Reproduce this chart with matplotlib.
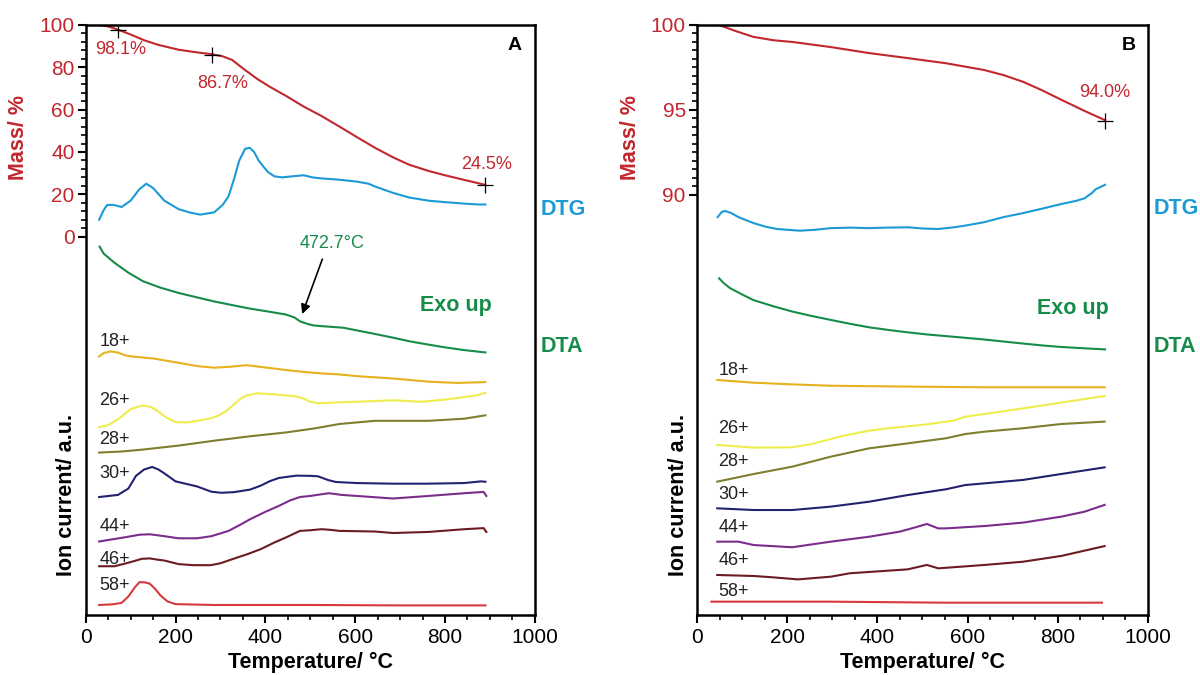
import numpy as np
import matplotlib
matplotlib.use("Agg")
import matplotlib.pyplot as plt
from matplotlib.ticker import FixedLocator

plt.rcParams['font.family'] = ['Liberation Sans', 'DejaVu Sans']

RED = "#C1272D"
BLUE = "#1B9AD6"
GREEN = "#178C4A"
MS_COLORS = {"18+": "#E6B21E", "26+": "#EDED4C", "28+": "#7F7F30",
             "30+": "#22226E", "44+": "#7B2D8B", "46+": "#6A1C20", "58+": "#D6393B"}

# ---------------- panel A data (temperature in C, value in axis units) ----------------
a_mass_t = [30, 50, 72, 100, 130, 160, 207, 250, 281, 305, 326, 350, 382, 410, 446, 485, 525,
            565, 604, 644, 684, 720, 764, 800, 843, 889]
a_mass = [100, 99.3, 97.8, 95.5, 92.8, 90.7, 88.3, 87, 86.2, 85.2, 83.5, 79.5, 74.5, 70.8, 66.5,
          61.5, 57, 52, 47, 42, 37.5, 34, 31, 29, 26.8, 24.5]

a_dtg_t = [30, 40, 48, 62, 80, 100, 120, 135, 150, 175, 207, 230, 255, 286, 305, 318, 330, 342,
           355, 365, 375, 385, 396, 406, 420, 437, 460, 485, 505, 525, 560, 604, 630, 644, 684,
           720, 763, 800, 843, 875, 890]
a_dtg = [8, 12.5, 15, 15, 14, 17, 22.5, 25, 23, 17, 13, 11.5, 10.4, 11.5, 15, 19, 27, 36, 41.5,
         42, 40, 36, 33, 30.5, 28.5, 28, 28.5, 29, 28, 27.5, 27, 26, 25, 23.7, 20.7, 18.5, 17,
         16.3, 15.6, 15.2, 15.2]

a_dta_t = [31, 40, 64, 95, 127, 165, 207, 250, 286, 330, 366, 410, 446, 465, 477, 495, 509, 540,
           573, 604, 640, 684, 720, 763, 800, 843, 890]
a_dta = [-4.7, -8, -12.3, -17, -21, -24, -26.6, -28.8, -30.6, -32.5, -34, -35.5, -36.8, -38.2,
         -40, -41.3, -42, -42.5, -43, -44.3, -45.8, -47.7, -49.4, -51, -52.3, -53.6, -54.7]

a_ms = {
    "18+": ([30, 40, 56, 72, 90, 104, 152, 207, 250, 286, 320, 358, 400, 446, 490, 525, 560, 604,
             684, 763, 827, 890],
            [-56.6, -55.0, -54.2, -54.8, -56.2, -56.6, -57.6, -59.6, -61.2, -61.9, -61.5, -60.7,
             -61.8, -63, -64, -64.6, -65.0, -65.9, -67, -68.5, -69.1, -68.7]),
    "26+": ([30, 50, 72, 100, 127, 145, 160, 180, 200, 225, 248, 275, 294, 312, 326, 345, 358, 382,
             420, 446, 470, 485, 500, 517, 560, 604, 684, 747, 800, 843, 870, 890],
            [-90, -89, -86.3, -81.5, -79.7, -80.5, -82.4, -85.5, -87.6, -87.8, -87, -86, -84.7,
             -82.5, -80, -76.5, -75, -74, -74.5, -75, -75.5, -76.5, -78, -78.7, -78.3, -78, -77.3,
             -78, -77, -75.8, -75, -73.8]),
    "28+": ([30, 80, 127, 207, 286, 366, 446, 509, 565, 644, 763, 843, 890],
            [-102, -101.5, -100.6, -98.7, -96.4, -94.3, -92.5, -90.6, -88.5, -87, -87, -86, -84.4]),
    "30+": ([30, 72, 95, 112, 130, 148, 162, 175, 200, 248, 280, 302, 330, 366, 390, 410, 430, 469,
             500, 517, 540, 557, 604, 684, 760, 843, 880, 890],
            [-123, -122, -119, -113, -110, -108.8, -110, -111.8, -115.6, -118, -120.5, -121, -120.7,
             -119.5, -117.6, -115.5, -114, -112.9, -113, -113.2, -115, -115.9, -116.4, -116.7,
             -116.7, -116.4, -115.6, -115.8]),
    "44+": ([30, 88, 120, 143, 175, 207, 248, 280, 318, 345, 366, 400, 430, 455, 477, 500, 525, 541,
             570, 604, 684, 763, 843, 886, 892],
            [-144, -142, -140.8, -140.6, -141.5, -142.5, -142.5, -141.5, -139, -136, -133.5, -130,
             -127.2, -124.6, -123, -122.5, -121.7, -121.2, -122, -122.5, -123.7, -122.5, -121.2,
             -120.6, -122.5]),
    "46+": ([30, 64, 85, 104, 125, 143, 160, 175, 207, 240, 278, 300, 326, 360, 390, 420, 446, 477,
             500, 525, 545, 565, 644, 684, 763, 843, 886, 892],
            [-155.7, -155.7, -154.6, -153.5, -152.2, -152, -152.6, -153, -154.7, -155.2, -155.2,
             -154.3, -152.4, -150, -147.6, -144.5, -142.1, -139, -138.7, -138.2, -138.5, -139,
             -139.3, -140, -139.5, -138.2, -137.7, -139.5]),
    "58+": ([30, 60, 80, 95, 110, 120, 132, 143, 155, 167, 182, 200, 286, 500, 700, 890],
            [-174, -173.7, -173, -170, -165.5, -163.2, -163.3, -164, -166.5, -169.6, -172.3,
             -173.6, -174, -174, -174.2, -174.2]),
}
a_ms_label_y = {"18+": -49.6, "26+": -77.6, "28+": -96.0, "30+": -111.8,
                "44+": -136.7, "46+": -152.3, "58+": -164.9}

# ---------------- panel B data ----------------
b_mass_t = [49, 85, 125, 170, 212, 297, 381, 468, 552, 637, 680, 724, 766, 808, 859, 905]
b_mass = [100, 99.65, 99.3, 99.1, 99.0, 98.7, 98.35, 98.05, 97.75, 97.35, 97.05, 96.65, 96.15,
          95.6, 94.95, 94.4]

b_dtg_t = [46, 55, 62, 75, 92, 125, 150, 177, 228, 260, 297, 340, 381, 420, 468, 500, 535, 570,
           595, 637, 680, 724, 766, 808, 840, 859, 875, 885, 905]
b_dtg = [88.7, 89.0, 89.06, 88.95, 88.7, 88.35, 88.15, 88.0, 87.9, 87.95, 88.05, 88.08, 88.05,
         88.08, 88.1, 88.03, 88.0, 88.1, 88.2, 88.4, 88.7, 88.94, 89.2, 89.47, 89.65, 89.8, 90.1,
         90.35, 90.6]

b_dta_t = [49, 60, 74, 100, 125, 170, 212, 255, 297, 340, 381, 425, 468, 509, 552, 595, 637, 680,
           724, 766, 808, 860, 905]
b_dta = [85.1, 84.8, 84.51, 84.15, 83.82, 83.45, 83.14, 82.88, 82.65, 82.42, 82.22, 82.06, 81.92,
         81.8, 81.7, 81.6, 81.5, 81.38, 81.26, 81.15, 81.06, 80.98, 80.92]

b_ms = {
    "18+": ([45, 126, 211, 297, 467, 638, 904],
            [79.12, 78.96, 78.86, 78.78, 78.73, 78.69, 78.69]),
    "26+": ([45, 126, 211, 254, 322, 382, 425, 510, 569, 595, 638, 723, 808, 904],
            [75.30, 75.14, 75.16, 75.35, 75.82, 76.14, 76.28, 76.51, 76.73, 76.96, 77.12, 77.45,
             77.79, 78.18]),
    "28+": ([45, 126, 211, 297, 382, 467, 552, 595, 638, 723, 808, 904],
            [73.14, 73.59, 74.02, 74.61, 75.10, 75.39, 75.69, 75.94, 76.08, 76.28, 76.53, 76.67]),
    "30+": ([45, 126, 211, 297, 382, 467, 552, 595, 638, 723, 808, 904],
            [71.57, 71.47, 71.47, 71.67, 71.96, 72.35, 72.69, 72.94, 73.04, 73.24, 73.59, 73.98]),
    "44+": ([45, 92, 126, 211, 297, 382, 450, 484, 510, 535, 552, 638, 723, 808, 859, 904],
            [69.61, 69.61, 69.41, 69.28, 69.61, 69.90, 70.20, 70.45, 70.65, 70.39, 70.39, 70.53,
             70.73, 71.08, 71.37, 71.77]),
    "46+": ([45, 126, 169, 224, 297, 339, 467, 510, 535, 638, 723, 808, 904],
            [67.65, 67.59, 67.51, 67.39, 67.55, 67.75, 67.98, 68.24, 68.04, 68.24, 68.43, 68.77,
             69.35]),
    "58+": ([32, 297, 552, 898],
            [66.08, 66.08, 66.02, 66.02]),
}
b_ms_label_y = {"18+": 79.7, "26+": 76.24, "28+": 74.3, "30+": 72.4,
                "44+": 70.45, "46+": 68.5, "58+": 66.7}

fig = plt.figure(figsize=(12, 6.75), dpi=100)


def setup_axis(ax, ylim, yticks, yminor):
    ax.set_xlim(0, 1000)
    ax.set_ylim(*ylim)
    ax.set_xticks([0, 200, 400, 600, 800, 1000])
    ax.xaxis.set_minor_locator(FixedLocator(np.arange(0, 1001, 50)))
    ax.set_yticks(yticks)
    ax.yaxis.set_minor_locator(FixedLocator(yminor))
    ax.tick_params(axis="both", which="major", direction="out", length=6, width=1.5,
                   labelsize=15, top=False, right=False)
    ax.tick_params(axis="both", which="minor", direction="out", length=3.5, width=1.2,
                   top=False, right=False)
    ax.tick_params(axis="y", labelcolor=RED, pad=2)
    for s in ax.spines.values():
        s.set_linewidth(1.8)


def draw_panel(ax, mass_t, mass, dtg_t, dtg, dta_t, dta, ms, label_y, label_x):
    lw = 1.5
    ax.plot(mass_t, mass, color=RED, lw=lw)
    ax.plot(dtg_t, dtg, color=BLUE, lw=lw)
    ax.plot(dta_t, dta, color=GREEN, lw=lw)
    for name, (t, v) in ms.items():
        ax.plot(t, v, color=MS_COLORS[name], lw=lw)
        ax.text(label_x, label_y[name], name, fontsize=13, color="#222222",
                ha="left", va="center")


# ---------------- panel A ----------------
axA = fig.add_axes([0.0714, 0.089, 0.3743, 0.874])
setup_axis(axA, (-178.7, 100), [0, 20, 40, 60, 80, 100], np.arange(0, 101, 4))
draw_panel(axA, a_mass_t, a_mass, a_dtg_t, a_dtg, a_dta_t, a_dta, a_ms, a_ms_label_y, 30)

axA.plot([72, 281, 889], [97.6, 86.0, 24.3], "+", color="black", ms=11, mew=0.9)
axA.text(77, 88.2, "98.1%", color=RED, fontsize=13, ha="center", va="center")
axA.text(304, 72.5, "86.7%", color=RED, fontsize=13, ha="center", va="center")
axA.text(893, 33.9, "24.5%", color=RED, fontsize=13, ha="center", va="center")
axA.annotate("", xy=(480, -37.8), xytext=(529, -9.4),
             arrowprops=dict(arrowstyle="-|>", color="black", lw=1.2, mutation_scale=14))
axA.text(549, -3.1, "472.7°C", color=GREEN, fontsize=13, ha="center", va="center")
axA.text(824, -32.3, "Exo up", color=GREEN, fontsize=15.5, fontweight="bold",
         ha="center", va="center")
axA.text(955, 90.5, "A", color="black", fontsize=14, fontweight="bold", ha="center", va="center")
axA.text(1.012, 12.6, "DTG", color=BLUE, fontsize=15.5, fontweight="bold", va="center",
         transform=axA.get_yaxis_transform())
axA.text(1.012, -52.1, "DTA", color=GREEN, fontsize=15.5, fontweight="bold", va="center",
         transform=axA.get_yaxis_transform())

# ---------------- panel B ----------------
axB = fig.add_axes([0.5808, 0.089, 0.3758, 0.874])
setup_axis(axB, (65.3, 100), [90, 95, 100], np.arange(90, 100.01, 0.5))
draw_panel(axB, b_mass_t, b_mass, b_dtg_t, b_dtg, b_dta_t, b_dta, b_ms, b_ms_label_y, 48)

axB.plot([904.5], [94.37], "+", color="black", ms=11, mew=0.9)
axB.text(904, 96.0, "94.0%", color=RED, fontsize=13, ha="center", va="center")
axB.text(834, 83.33, "Exo up", color=GREEN, fontsize=15.5, fontweight="bold",
         ha="center", va="center")
axB.text(957, 98.82, "B", color="black", fontsize=14, fontweight="bold", ha="center", va="center")
axB.text(1.012, 89.2, "DTG", color=BLUE, fontsize=15.5, fontweight="bold", va="center",
         transform=axB.get_yaxis_transform())
axB.text(1.012, 81.08, "DTA", color=GREEN, fontsize=15.5, fontweight="bold", va="center",
         transform=axB.get_yaxis_transform())

# axis titles
for x_mass, x_ion, x_temp in [(19 / 1200, 66 / 1200, 310 / 1200), (631 / 1200, 679 / 1200, 922 / 1200)]:
    fig.text(x_mass, 1 - 138 / 675, "Mass/ %", color=RED, fontsize=15.5, fontweight="bold",
             rotation=90, ha="center", va="center")
    fig.text(x_ion, 1 - 495 / 675, "Ion current/ a.u.", color="black", fontsize=15.5,
             fontweight="bold", rotation=90, ha="center", va="center")
    fig.text(x_temp, 1 - 662 / 675, "Temperature/ °C", color="black", fontsize=15.5,
             fontweight="bold", ha="center", va="center")

fig.savefig("out.png", dpi=100)
